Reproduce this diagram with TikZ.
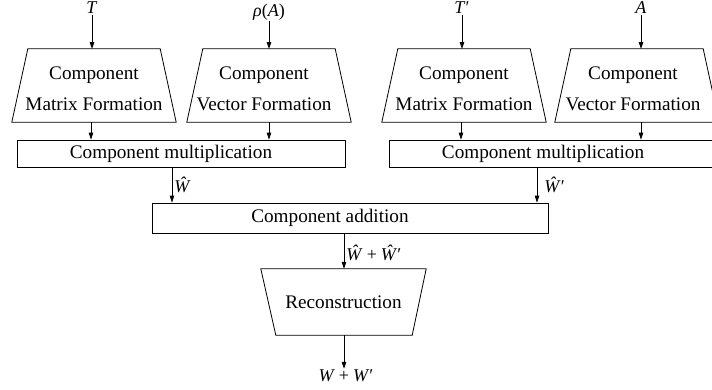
\documentclass[tikz,border=0pt]{standalone}
\usepackage{fontspec}
\setmainfont{Liberation Serif}
\usetikzlibrary{arrows.meta,calc}
\begin{document}
\begin{tikzpicture}[x=1pt,y=-1pt,
  boxfont/.style={font=\fontsize{19.2}{31}\selectfont},
  labfont/.style={font=\fontsize{18}{20}\selectfont},
  trapbox/.style={boxfont,minimum width=164pt,minimum height=73pt,inner sep=0pt,align=center},
  flatbox/.style={boxfont,draw,line width=0.8pt,inner sep=0pt},
  lab/.style={labfont,inner sep=1pt},
  arr/.style={line width=0.8pt,-{Triangle[length=7pt,width=4.5pt]}},
  edge/.style={line width=0.8pt,line join=miter}
]
\useasboundingbox (0,0) rectangle (712,389);
\begin{scope}
\clip (0,0) rectangle (712,389);

% formation stages: wide at the bottom (outline offset dx from the text)
\node[trapbox] (mf1) at (94,88.5) {Component\\Matrix Formation};
\node[trapbox] (vf1) at (264,88.5) {Component\\Vector Formation};
\node[trapbox] (mf2) at (464,88.5) {Component\\Matrix Formation};
\node[trapbox] (vf2) at (633,88.5) {Component\\Vector Formation};
\foreach \n/\dx in {mf1/0,vf1/5,mf2/0,vf2/4}{
  \draw[edge] ($(\n.north west)+(16+\dx,-3)$) -- ($(\n.north east)+(-16+\dx,-3)$)
    -- ($(\n.south east)+(\dx,-3)$) -- ($(\n.south west)+(\dx,-3)$) -- cycle;
}

% inputs
\node[lab] (tT) at (92,8) {\textit{T}};
\node[lab] (tR) at (269,12) {\textit{ρ}(\textit{A})};
\node[lab] (tTp) at (462,8) {\textit{T}′};
\node[lab] (tA) at (641,8) {\textit{A}};
\draw[arr] (tT.south) -- (tT.south |- 0,49);
\draw[arr] (tR.south) -- (tR.south |- 0,49);
\draw[arr] (tTp.south) -- (tTp.south |- 0,49);
\draw[arr] (tA.south) -- (tA.south |- 0,49);

% multiplication stages
\node[flatbox,minimum width=328pt,minimum height=27pt] (mul1) at (181,153.5)
  {Component multiplication\kern20pt};
\node[flatbox,minimum width=328pt,minimum height=27pt] (mul2) at (553,153.5)
  {Component multiplication\kern20pt};
\coordinate (a1) at (91,122);
\coordinate (a2) at (269,122);
\coordinate (a3) at (461,122);
\coordinate (a4) at (641,122);
\draw[arr] (a1) -- (a1 |- mul1.north);
\draw[arr] (a2) -- (a2 |- mul1.north);
\draw[arr] (a3) -- (a3 |- mul2.north);
\draw[arr] (a4) -- (a4 |- mul2.north);

% addition stage
\node[flatbox,minimum width=396pt,minimum height=30pt] (add) at (350,218)
  {Component addition\kern40pt};
\coordinate (w1) at (172,0 |- mul1.south);
\coordinate (w2) at (537,0 |- mul2.south);
\draw[arr] (w1) -- (w1 |- add.north) node[lab,pos=0.5,right,xshift=1pt] {\textit{\^W}};
\draw[arr] (w2) -- (w2 |- add.north) node[lab,pos=0.5,right,xshift=6pt] {\textit{\^W}′};

% reconstruction: wide at the top
\node[trapbox,minimum width=165pt,minimum height=66pt] (rec) at (343.5,302) {Reconstruction};
\draw[edge] (rec.north west) -- (rec.north east)
  -- ($(rec.south east)+(-14,0)$) -- ($(rec.south west)+(15,0)$) -- cycle;
\coordinate (s1) at (344,0 |- add.south);
\draw[arr] (s1) -- (s1 |- rec.north)
  node[lab,pos=0.55,right,xshift=1pt] {\textit{\^W}\hspace{4pt}+\hspace{4pt}\textit{\^W}′};

\node[lab] (out) at (346,376) {\textit{W}\hspace{4pt}+\hspace{4pt}\textit{W}′};
\coordinate (s2) at (344,0 |- rec.south);
\draw[arr] (s2) -- (s2 |- out.north);
\end{scope}
\end{tikzpicture}
\end{document}
